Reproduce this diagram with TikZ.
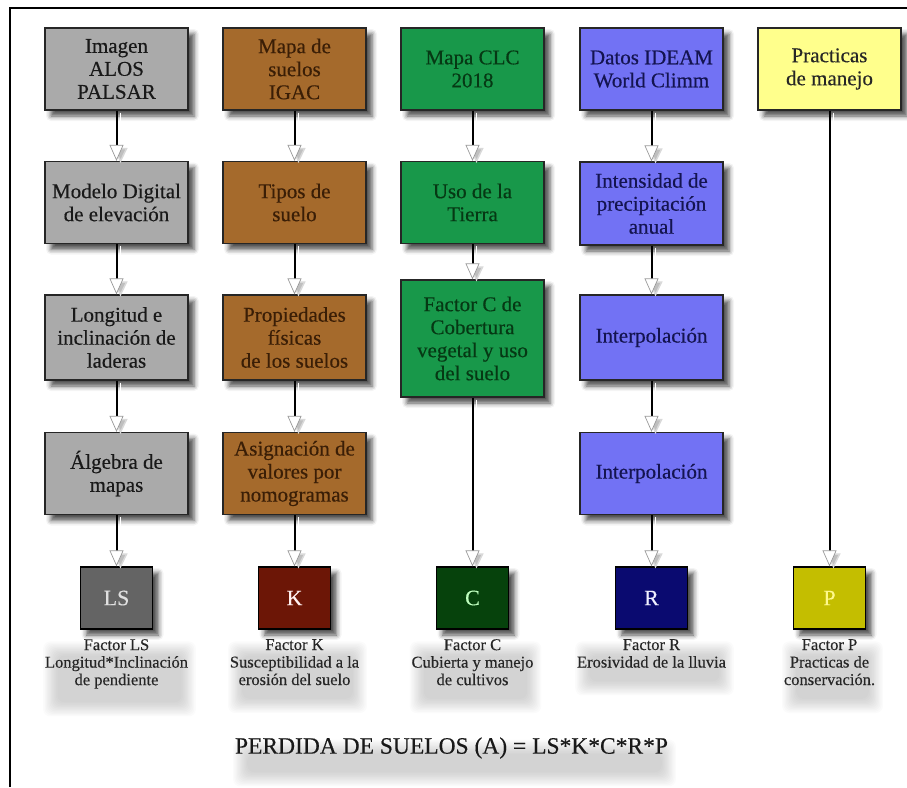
\documentclass[tikz,border=0pt]{standalone}
\usepackage{fontspec}
\setmainfont{Liberation Serif}[FakeBold=0.35]
\usetikzlibrary{arrows.meta,shadows.blur}

\definecolor{grayfill}{RGB}{170,170,170}
\definecolor{brownfill}{RGB}{165,106,44}
\definecolor{greenfill}{RGB}{24,152,74}
\definecolor{bluefill}{RGB}{114,114,244}
\definecolor{yellowfill}{RGB}{255,255,140}
\definecolor{lsfill}{RGB}{100,100,100}
\definecolor{kfill}{RGB}{108,22,6}
\definecolor{cfill}{RGB}{6,66,12}
\definecolor{rfill}{RGB}{10,10,112}
\definecolor{pfill}{RGB}{196,190,0}
\definecolor{browntext}{RGB}{58,30,6}
\definecolor{greentext}{RGB}{6,56,20}
\definecolor{bluetext}{RGB}{20,20,80}

\pgfdeclarelayer{bg}
\pgfsetlayers{bg,main}

% soft grey glow below a caption
\newcommand\softshade[1]{%
  \foreach \k in {1,...,12}{%
    \fill[black,opacity=0.015,rounded corners=7pt]
      ([xshift={14pt-\k*1.3pt}, yshift={-12pt-\k*1.3pt}]#1.south west) rectangle
      ([xshift={-8pt+\k*1.3pt}, yshift={-18pt+\k*1.3pt}]#1.north east);}}

\tikzset{
  boxshade/.style={blur shadow={shadow xshift=6pt, shadow yshift=-6pt,
      shadow blur radius=5pt, shadow opacity=70}},
  procbox/.style={draw=black!85, line width=1.3pt, minimum width=143pt,
      minimum height=82pt, inner sep=2pt, align=center,
      font=\fontsize{21}{23}\selectfont, boxshade},
  factorbox/.style={draw=black, line width=1.3pt, minimum width=72pt,
      minimum height=62pt, font=\fontsize{22}{24}\selectfont, boxshade},
  caption/.style={align=center, font=\fontsize{16.5}{17.5}\selectfont,
      text=black!85, inner sep=0pt, anchor=north},
  flow/.style={line width=2pt, draw=black,
      -{Triangle[length=16pt, width=14pt, fill=white, color=black!40, line width=0.7pt]}},
  flowshade/.style={draw=white, line width=0.1pt,
      -{Triangle[length=15pt, width=14pt, fill=black!25, color=black!15, line width=1.5pt]},
      transform canvas={xshift=4pt, yshift=-2pt}},
}

\begin{document}
\begin{tikzpicture}[x=1pt, y=-1pt]
\useasboundingbox (0,0) rectangle (907,787);

% outer frame (left and top edges)
\draw[line width=1.8pt] (10,787) -- (10,8) -- (907,8);

% column 1: relief
\node[procbox, fill=grayfill, text=black!90] (ls1) at (116.5,69) {Imagen\\ALOS\\PALSAR};
\node[procbox, fill=grayfill, text=black!90] (ls2) at (116.5,202.5) {Modelo Digital\\de elevación};
\node[procbox, fill=grayfill, text=black!90, minimum height=85pt] (ls3) at (116.5,337.5) {Longitud e\\inclinación de\\laderas};
\node[procbox, fill=grayfill, text=black!90] (ls4) at (116.5,473.5) {Álgebra de\\mapas};

% column 2: soils
\node[procbox, fill=brownfill, text=browntext] (k1) at (294.5,69) {Mapa de\\suelos\\IGAC};
\node[procbox, fill=brownfill, text=browntext] (k2) at (294.5,202.5) {Tipos de\\suelo};
\node[procbox, fill=brownfill, text=browntext, minimum height=85pt] (k3) at (294.5,337.5) {Propiedades\\físicas\\de los suelos};
\node[procbox, fill=brownfill, text=browntext] (k4) at (294.5,473.5) {Asignación de\\valores por\\nomogramas};

% column 3: land cover
\node[procbox, fill=greenfill, text=greentext] (c1) at (472.5,69) {Mapa CLC\\2018};
\node[procbox, fill=greenfill, text=greentext] (c2) at (472.5,202.5) {Uso de la\\Tierra};
\node[procbox, fill=greenfill, text=greentext, minimum height=117pt] (c3) at (472.5,338.5) {Factor C de\\Cobertura\\vegetal y uso\\del suelo};

% column 4: rainfall
\node[procbox, fill=bluefill, text=bluetext] (r1) at (651.5,69) {Datos IDEAM\\World Climm};
\node[procbox, fill=bluefill, text=bluetext, minimum height=83pt] (r2) at (651.5,203.5) {Intensidad de\\precipitación\\anual};
\node[procbox, fill=bluefill, text=bluetext, minimum height=85pt] (r3) at (651.5,337.5) {Interpolación};
\node[procbox, fill=bluefill, text=bluetext] (r4) at (651.5,473.5) {Interpolación};

% column 5: practices
\node[procbox, fill=yellowfill, text=black!85] (p1) at (829.5,69) {Practicas\\de manejo};

% factors
\node[factorbox, fill=lsfill, text=black!12] (LS) at (116.5,598) {LS};
\node[factorbox, fill=kfill, text=red!6] (K) at (294.5,598) {K};
\node[factorbox, fill=cfill, text=green!25!white] (C) at (472.5,598) {C};
\node[factorbox, fill=rfill, text=blue!6] (R) at (651.5,598) {R};
\node[factorbox, fill=pfill, text=yellow!45!white] (P) at (829.5,598) {P};

% captions
\node[caption] (lsc) at (116.5,639) {Factor LS\\Longitud*Inclinación\\de pendiente};
\node[caption] (kc) at (294.5,639) {Factor K\\Susceptibilidad a la\\erosión del suelo};
\node[caption] (cc) at (472.5,639) {Factor C\\Cubierta y manejo\\de cultivos};
\node[caption] (rc) at (651.5,639) {Factor R\\Erosividad de la lluvia};
\node[caption] (pc) at (829.5,639) {Factor P\\Practicas de\\conservación.};

\node[font=\fontsize{23.5}{26}\selectfont, text=black!90, inner sep=0pt] (eq) at (451.5,748)
  {PERDIDA DE SUELOS (A) = LS*K*C*R*P};

\begin{pgfonlayer}{bg}
  \softshade{lsc}\softshade{kc}\softshade{cc}\softshade{rc}\softshade{pc}\softshade{eq}
\end{pgfonlayer}

% connectors
\foreach \a/\b in {ls1/ls2, ls2/ls3, ls3/ls4, ls4/LS,
                   k1/k2, k2/k3, k3/k4, k4/K,
                   c1/c2, c2/c3, c3/C,
                   r1/r2, r2/r3, r3/r4, r4/R,
                   p1/P}{
  \draw[flowshade] (\a) -- (\b);
  \draw[flow] (\a) -- (\b);
}
\end{tikzpicture}
\end{document}
